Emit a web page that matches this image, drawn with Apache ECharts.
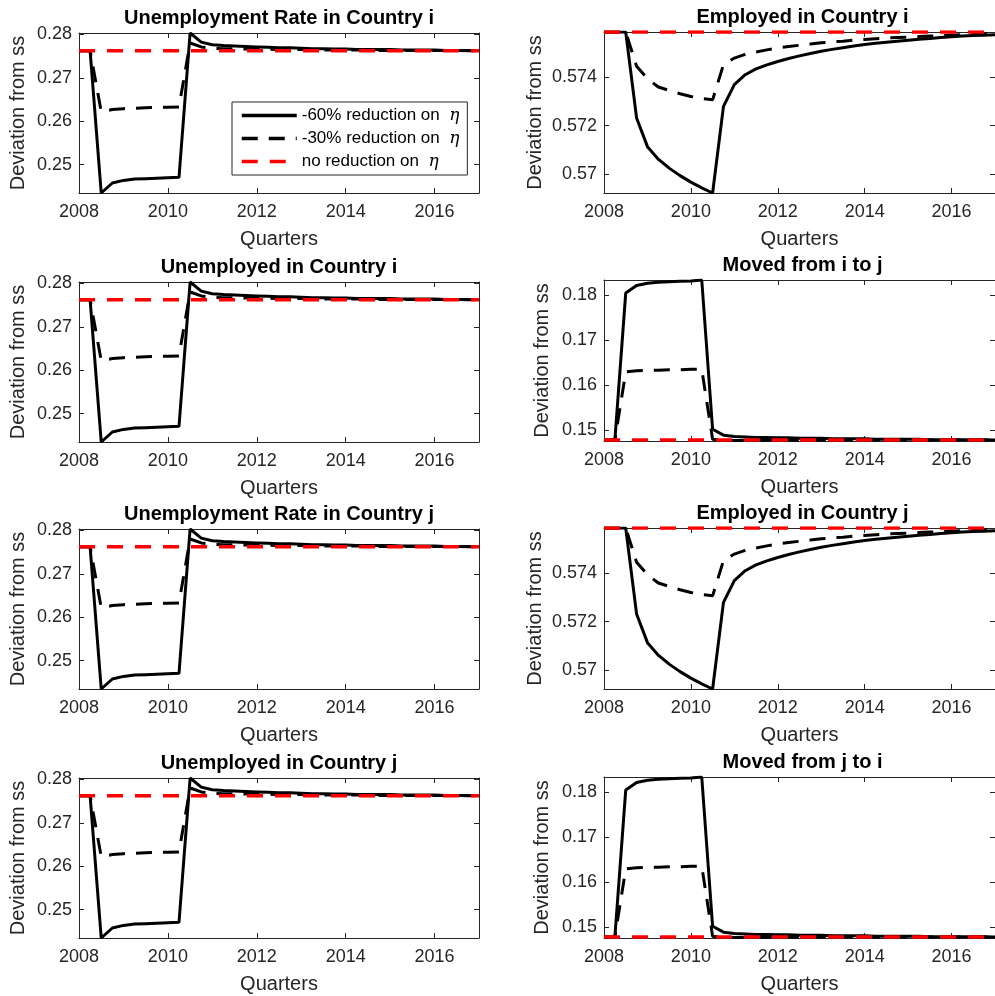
<!DOCTYPE html>
<html><head><meta charset="utf-8">
<script src="https://cdn.jsdelivr.net/npm/echarts@6/dist/echarts.min.js"></script>
<style>html,body{margin:0;padding:0;background:#fff}#c{width:995px;height:996px}</style>
</head><body><div id="c"></div>
<script>
// ---------------- data ----------------
const quarters = [2008,2008.25,2008.5,2008.75,2009,2009.25,2009.5,2009.75,2010,2010.25,2010.5,2010.75,2011,2011.25,2011.5,2011.75,2012,2012.25,2012.5,2012.75,2013,2013.25,2013.5,2013.75,2014,2014.25,2014.5,2014.75,2015,2015.25,2015.5,2015.75,2016,2016.25,2016.5,2016.75,2017];
const xTicks = [2008, 2010, 2012, 2014, 2016];
const seriesNames = ['-60% reduction on', '-30% reduction on', 'no reduction on'];

// unemployment rate / unemployed
const urate60 = [0.2762,0.2762,0.2435,0.2458,0.2464,0.2467,0.2468,0.2469,0.2470,0.2471,
  0.2803,0.2782,0.2776,0.2774,0.2773,0.2772,0.2771,0.2770,0.2769,0.2769,
  0.2768,0.2767,0.2767,0.2766,0.2766,0.2765,0.2765,0.2765,0.2765,
  0.2764,0.2764,0.2764,0.2764,0.2763,0.2763,0.2763,0.2763];
const urate30 = [0.2762,0.2762,0.2622,0.2627,0.2629,0.2630,0.2631,0.2632,0.2632,0.2633,
  0.2780,0.2771,0.2768,0.2767,0.2767,0.2766,0.2766,0.2766,0.2765,0.2765,
  0.2765,0.2765,0.2764,0.2764,0.2764,0.2764,0.2764,0.2763,0.2763,
  0.2763,0.2763,0.2763,0.2763,0.2763,0.2763,0.2762,0.2762];
const urateSS = [0.2762,0.2762,0.2762,0.2762,0.2762,0.2762,0.2762,0.2762,0.2762,0.2762,
  0.2762,0.2762,0.2762,0.2762,0.2762,0.2762,0.2762,0.2762,0.2762,0.2762,
  0.2762,0.2762,0.2762,0.2762,0.2762,0.2762,0.2762,0.2762,0.2762,
  0.2762,0.2762,0.2762,0.2762,0.2762,0.2762,0.2762,0.2762];
const urateLim = [0.2435, 0.2803];
const urateTicks = [0.25, 0.26, 0.27, 0.28];

// employed
const emp60 = [0.57588,0.57588,0.57588,0.57232,0.57113,0.57061,0.57024,0.56993,0.56966,0.56942,
  0.56921,0.5728,0.5737,0.57411,0.57435,0.57452,0.57466,0.57478,0.57489,0.57499,
  0.57508,0.57516,0.57523,0.5753,0.57536,0.57541,0.57546,0.5755,0.57554,
  0.57558,0.57561,0.57565,0.57568,0.57571,0.57573,0.57575,0.57577];
const emp30 = [0.57588,0.57588,0.57588,0.57446,0.57395,0.5736,0.57346,0.57332,0.57321,0.57312,
  0.57307,0.57453,0.5748,0.57495,0.57505,0.57514,0.57522,0.57528,0.57533,0.57538,
  0.57543,0.57547,0.5755,0.57554,0.57557,0.5756,0.57563,0.57565,0.57567,
  0.57569,0.57571,0.57573,0.57575,0.57577,0.57579,0.5758,0.57581];
const empSS = [0.57588,0.57588,0.57588,0.57588,0.57588,0.57588,0.57588,0.57588,0.57588,0.57588,
  0.57588,0.57588,0.57588,0.57588,0.57588,0.57588,0.57588,0.57588,0.57588,0.57588,
  0.57588,0.57588,0.57588,0.57588,0.57588,0.57588,0.57588,0.57588,0.57588,
  0.57588,0.57588,0.57588,0.57588,0.57588,0.57588,0.57588,0.57588];
const empLim = [0.56921, 0.57588];
const empTicks = [0.57, 0.572, 0.574];

// moved
const mov60 = [0.1478,0.1478,0.1804,0.1821,0.1826,0.1828,0.1829,0.1830,0.1831,0.1833,
  0.1502,0.1489,0.1486,0.1485,0.1484,0.1484,0.1483,0.1483,0.1482,0.1482,
  0.1482,0.1481,0.1481,0.1481,0.1481,0.1480,0.1480,0.1480,0.1480,
  0.1480,0.1479,0.1479,0.1479,0.1479,0.1479,0.1479,0.1478];
const mov30 = [0.1478,0.1478,0.1629,0.1632,0.1633,0.1633,0.1634,0.1634,0.1635,0.1635,
  0.1480,0.1477,0.1477,0.1477,0.1477,0.1478,0.1478,0.1478,0.1478,0.1478,
  0.1478,0.1478,0.1478,0.1478,0.1478,0.1478,0.1478,0.1478,0.1478,
  0.1478,0.1478,0.1478,0.1478,0.1478,0.1478,0.1478,0.1478];
const movSS = [0.1478,0.1478,0.1478,0.1478,0.1478,0.1478,0.1478,0.1478,0.1478,0.1478,
  0.1478,0.1478,0.1478,0.1478,0.1478,0.1478,0.1478,0.1478,0.1478,0.1478,
  0.1478,0.1478,0.1478,0.1478,0.1478,0.1478,0.1478,0.1478,0.1478,
  0.1478,0.1478,0.1478,0.1478,0.1478,0.1478,0.1478,0.1478];
const movLim = [0.1476, 0.1833];
const movTicks = [0.15, 0.16, 0.17, 0.18];

const panels = [
  {title: 'Unemployment Rate in Country i', s: [urate60, urate30, urateSS], lim: urateLim, ticks: urateTicks},
  {title: 'Employed in Country i', s: [emp60, emp30, empSS], lim: empLim, ticks: empTicks},
  {title: 'Unemployed in Country i', s: [urate60, urate30, urateSS], lim: urateLim, ticks: urateTicks},
  {title: 'Moved from i to j', s: [mov60, mov30, movSS], lim: movLim, ticks: movTicks},
  {title: 'Unemployment Rate in Country j', s: [urate60, urate30, urateSS], lim: urateLim, ticks: urateTicks},
  {title: 'Employed in Country j', s: [emp60, emp30, empSS], lim: empLim, ticks: empTicks},
  {title: 'Unemployed in Country j', s: [urate60, urate30, urateSS], lim: urateLim, ticks: urateTicks},
  {title: 'Moved from j to i', s: [mov60, mov30, movSS], lim: movLim, ticks: movTicks}
];

// ---------------- layout / style ----------------
const FONT = 'Liberation Sans, Arial, Helvetica, sans-serif';
const AX = '#262626';
const colLeft = [79, 604], colWidth = [400, 397];
const rowTop = [[33, 282, 529, 778], [32, 280, 528, 777]];
const colHeight = [160, 161];
const lineStyles = [
  {color: '#000', width: 3, type: 'solid'},
  {color: '#000', width: 3, type: [16, 11]},
  {color: '#ff0000', width: 3.5, type: [16, 12]}
];

const grid = [], xAxis = [], yAxis = [], series = [], title = [];
panels.forEach((p, k) => {
  const row = Math.floor(k / 2), col = k % 2;
  const left = colLeft[col], top = rowTop[col][row], w = colWidth[col], h = colHeight[col];
  grid.push({left: left, top: top, width: w, height: h, containLabel: false});
  title.push({text: p.title, left: left + w / 2, top: top - 25, textAlign: 'center', padding: 0,
    textStyle: {fontSize: 20, fontWeight: 'bold', color: '#000', fontFamily: FONT}});
  const tickStyle = {lineStyle: {color: AX, width: 1}};
  xAxis.push({gridIndex: k, type: 'value', min: 2008, max: 2017, position: 'bottom',
    axisLine: {show: true, onZero: false, lineStyle: {color: AX, width: 1}},
    axisTick: Object.assign({show: true, inside: true, length: 5, customValues: xTicks}, tickStyle),
    axisLabel: {customValues: xTicks, color: AX, fontSize: 18, margin: 10, fontFamily: FONT,
      formatter: v => String(v)},
    splitLine: {show: false},
    name: 'Quarters', nameLocation: 'middle', nameGap: 36,
    nameTextStyle: {fontSize: 20, color: AX, fontFamily: FONT}});
  xAxis.push({gridIndex: k, type: 'value', min: 2008, max: 2017, position: 'top',
    axisLine: {show: true, onZero: false, lineStyle: {color: AX, width: 1}},
    axisTick: Object.assign({show: true, inside: true, length: 5, customValues: xTicks}, tickStyle),
    axisLabel: {show: false}, splitLine: {show: false}});
  const nameGap = col === 0 ? 51 : (row % 2 === 0 ? 59 : 52);
  yAxis.push({gridIndex: k, type: 'value', min: p.lim[0], max: p.lim[1], position: 'left',
    axisLine: {show: true, onZero: false, lineStyle: {color: AX, width: 1}},
    axisTick: Object.assign({show: true, inside: true, length: 5, customValues: p.ticks}, tickStyle),
    axisLabel: {customValues: p.ticks, color: AX, fontSize: 18, margin: 7, fontFamily: FONT,
      formatter: v => String(+(+v).toFixed(4))},
    splitLine: {show: false},
    name: 'Deviation from ss', nameLocation: 'middle', nameGap: nameGap,
    nameTextStyle: {fontSize: 20, color: AX, fontFamily: FONT}});
  yAxis.push({gridIndex: k, type: 'value', min: p.lim[0], max: p.lim[1], position: 'right',
    axisLine: {show: true, onZero: false, lineStyle: {color: AX, width: 1}},
    axisTick: Object.assign({show: true, inside: true, length: 5, customValues: p.ticks}, tickStyle),
    axisLabel: {show: false}, splitLine: {show: false}});
  p.s.forEach((vals, j) => {
    series.push({
      type: 'line', name: seriesNames[j], xAxisIndex: 2 * k, yAxisIndex: 2 * k,
      data: quarters.map((q, i) => [q, vals[i]]),
      showSymbol: false, symbol: 'none', smooth: false,
      lineStyle: lineStyles[j], itemStyle: {color: lineStyles[j].color},
      z: 2 + j, animation: false
    });
  });
});

const chart = echarts.init(document.getElementById('c'), null, {renderer: 'canvas'});
chart.setOption({
  backgroundColor: '#fff',
  animation: false,
  title: title,
  grid: grid, xAxis: xAxis, yAxis: yAxis, series: series,
  legend: {
    data: seriesNames, orient: 'vertical', left: 232, top: 102,
    padding: [5, 8, 5, 8], itemGap: 6, itemWidth: 55, itemHeight: 14,
    borderColor: AX, borderWidth: 1, backgroundColor: '#fff', selectedMode: false,
    itemStyle: {opacity: 0, borderWidth: 0},
    lineStyle: {width: 3.5},
    formatter: n => n + '  {eta|η}',
    textStyle: {fontSize: 17, color: '#000', fontFamily: FONT,
      rich: {eta: {fontFamily: 'DejaVu Serif, Liberation Serif, serif', fontStyle: 'italic', fontSize: 17, color: '#000'}}}
  }
});
</script></body></html>
